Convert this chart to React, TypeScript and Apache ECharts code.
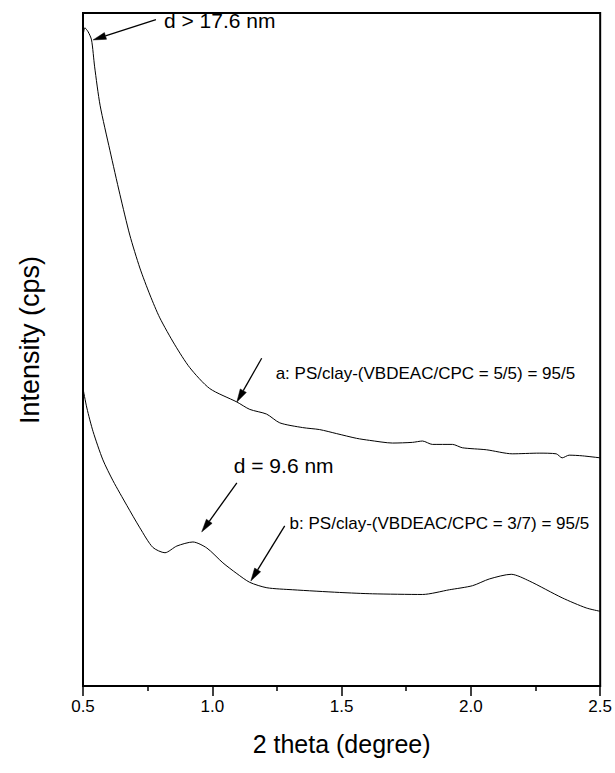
import React, { useEffect, useRef } from "react";
import * as echarts from "echarts";

// Curve a: PS/clay-(VBDEAC/CPC = 5/5) = 95/5
const aX = [0.5, 0.507, 0.52, 0.533, 0.545, 0.566, 0.604, 0.643, 0.681, 0.72, 0.759, 0.797, 0.855, 0.913, 0.99, 1.095, 1.145, 1.21, 1.261, 1.349, 1.415, 1.481, 1.558, 1.608, 1.697, 1.774, 1.813, 1.851, 1.929, 1.967, 2.06, 2.16, 2.264, 2.33, 2.353, 2.38, 2.431, 2.5];
const aY = [96.5, 97.8, 97.2, 96.0, 92.0, 86.3, 79.6, 73.0, 67.0, 62.1, 58.1, 54.7, 50.7, 47.3, 44.2, 42.2, 41.1, 40.4, 39.1, 38.4, 38.1, 37.5, 36.8, 36.5, 36.1, 36.2, 36.4, 35.9, 35.9, 35.4, 35.1, 34.5, 34.6, 34.5, 33.9, 34.3, 34.2, 33.9];

// Curve b: PS/clay-(VBDEAC/CPC = 3/7) = 95/5
const bX = [0.5, 0.515, 0.539, 0.577, 0.616, 0.67, 0.72, 0.77, 0.817, 0.863, 0.925, 0.979, 1.041, 1.095, 1.145, 1.211, 1.311, 1.492, 1.62, 1.813, 1.917, 2.006, 2.071, 2.156, 2.226, 2.353, 2.446, 2.5];
const bY = [44.2, 41.3, 37.8, 33.6, 30.5, 26.8, 23.5, 20.6, 19.8, 20.8, 21.4, 20.5, 18.3, 16.7, 15.4, 14.6, 14.3, 13.9, 13.7, 13.6, 14.3, 14.9, 15.9, 16.6, 15.6, 13.1, 11.6, 11.1];

const xTicks = [0.5, 1.0, 1.5, 2.0, 2.5];

// Annotation texts (left edge, vertical middle, data units)
const labelTexts = ["d > 17.6 nm", "a: PS/clay-(VBDEAC/CPC = 5/5) = 95/5", "d = 9.6 nm", "b: PS/clay-(VBDEAC/CPC = 3/7) = 95/5"];
const labelX = [0.813, 1.245, 1.083, 1.299];
const labelY = [98.9, 46.5, 32.8, 24.2];
const labelSize = [21, 17, 21, 17];

// Arrows: tail (x1,y1) -> head (x2,y2) in data units
const arrowX1 = [0.782, 1.191, 1.095, 1.28];
const arrowY1 = [99.0, 48.7, 30.2, 23.8];
const arrowX2 = [0.539, 1.095, 0.959, 1.149];
const arrowY2 = [96.0, 42.2, 22.9, 15.6];

const FONT = "'Liberation Sans', Arial, Helvetica, sans-serif";

export default function App() {
  const ref = useRef<HTMLDivElement>(null);
  useEffect(() => {
    if (!ref.current) return;
    const chart = echarts.init(ref.current, null, { renderer: "svg" });
    const option: any = {
      animation: false,
      backgroundColor: "#fff",
      grid: { left: 83, right: 14, top: 13, bottom: 87, show: true, borderColor: "#000", borderWidth: 2, backgroundColor: "transparent" },
      xAxis: {
        type: "value",
        min: 0.5,
        max: 2.5,
        interval: 0.5,
        name: "2 theta (degree)",
        nameLocation: "middle",
        nameGap: 45,
        nameTextStyle: { fontSize: 25, color: "#000", fontFamily: FONT },
        axisLine: { show: true, lineStyle: { color: "#000", width: 2 } },
        axisTick: { show: true, inside: false, length: 10, lineStyle: { color: "#000", width: 1.5 } },
        minorTick: { show: true, splitNumber: 2, length: 5, lineStyle: { color: "#000", width: 1.5 } },
        splitLine: { show: false },
        axisLabel: { fontSize: 17, color: "#000", fontFamily: FONT, margin: 12, formatter: (v: number) => (xTicks.includes(v) ? v.toFixed(1) : "") },
      },
      yAxis: {
        type: "value",
        min: 0,
        max: 100,
        axisLine: { show: true, lineStyle: { color: "#000", width: 2 } },
        axisTick: { show: false },
        axisLabel: { show: false },
        splitLine: { show: false },
      },
      series: [
        {
          type: "line",
          data: aX.map((x, i) => [x, aY[i]]),
          showSymbol: false,
          smooth: 0.25,
          lineStyle: { color: "#000", width: 1 },
        },
        {
          type: "line",
          data: bX.map((x, i) => [x, bY[i]]),
          showSymbol: false,
          smooth: 0.25,
          lineStyle: { color: "#000", width: 1 },
        },
      ],
    };
    chart.setOption(option);

    const graphic: any[] = [
      {
        type: "text",
        x: 30,
        y: 340,
        rotation: Math.PI / 2,
        style: { text: "Intensity (cps)", fontSize: 27, fontFamily: FONT, fill: "#000", align: "center", verticalAlign: "middle" },
      },
    ];
    labelTexts.forEach((t, i) => {
      const p = chart.convertToPixel({ gridIndex: 0 }, [labelX[i], labelY[i]]);
      graphic.push({
        type: "text",
        x: p[0],
        y: p[1],
        style: { text: t, fontSize: labelSize[i], fontFamily: FONT, fill: "#000", align: "left", verticalAlign: "middle" },
      });
    });
    arrowX1.forEach((_, i) => {
      const p1 = chart.convertToPixel({ gridIndex: 0 }, [arrowX1[i], arrowY1[i]]);
      const p2 = chart.convertToPixel({ gridIndex: 0 }, [arrowX2[i], arrowY2[i]]);
      const dx = p2[0] - p1[0];
      const dy = p2[1] - p1[1];
      const len = Math.sqrt(dx * dx + dy * dy);
      const ux = dx / len;
      const uy = dy / len;
      const headL = 13;
      const headW = 3.5;
      const bx = p2[0] - ux * headL;
      const by = p2[1] - uy * headL;
      graphic.push({
        type: "line",
        shape: { x1: p1[0], y1: p1[1], x2: bx, y2: by },
        style: { stroke: "#000", lineWidth: 1.3 },
      });
      graphic.push({
        type: "polygon",
        shape: {
          points: [
            [p2[0], p2[1]],
            [bx - uy * headW, by + ux * headW],
            [bx + uy * headW, by - ux * headW],
          ],
        },
        style: { fill: "#000", stroke: "#000", lineWidth: 0.5 },
      });
    });
    chart.setOption({ graphic });
    return () => chart.dispose();
  }, []);
  return <div ref={ref} style={{ position: "fixed", left: 0, top: 0, width: 615, height: 773, background: "#fff" }} />;
}
